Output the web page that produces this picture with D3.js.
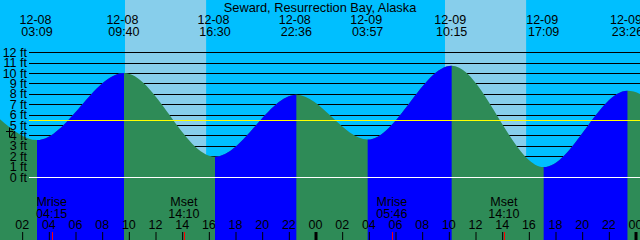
<!DOCTYPE html>
<html>
<head>
<meta charset="utf-8">
<script src="https://cdn.jsdelivr.net/npm/d3@7"></script>
<style>
  body { margin: 0; padding: 0; }
  svg { display: block; }
  text { font-family: "Liberation Sans", Arial, sans-serif; fill: #000; }
</style>
</head>
<body>
<svg id="chart" width="640" height="240"></svg>
<script>
const title = "Seward, Resurrection Bay, Alaska";

// tide extremes (the first two and last two lie outside the window, they only shape the edges)
const tideTimes = ["2023-12-07T15:40", "2023-12-07T21:40", "2023-12-08T03:09", "2023-12-08T09:40",
                   "2023-12-08T16:30", "2023-12-08T22:36", "2023-12-09T03:57", "2023-12-09T10:15",
                   "2023-12-09T17:09", "2023-12-09T23:26", "2023-12-10T05:40", "2023-12-10T11:00"];
const tideHeights = [2.4, 7.5, 3.55, 10.0, 1.95, 7.9, 3.6, 10.7, 0.95, 8.3, 3.3, 11.0];

// daylight
const sunrise = ["2023-12-08T09:45", "2023-12-09T09:45"];
const sunset  = ["2023-12-08T15:50", "2023-12-09T15:50"];

// moon
const moonLabels = ["Mrise", "Mset", "Mrise", "Mset"];
const moonTimes = ["2023-12-08T04:15", "2023-12-08T14:10", "2023-12-09T05:46", "2023-12-09T14:10"];

const feetTicks = [0, 1, 2, 3, 4, 5, 6, 7, 8, 9, 10, 11, 12];
const meanLevel = 5.45;
const currentLevel = 4.4;

const windowStart = "2023-12-08T00:22:30";
const windowEnd = "2023-12-10T00:22:30";

const width = 640, height = 240;
const parse = s => new Date(s + "Z");

const svg = d3.select("#chart");

const x = d3.scaleUtc()
    .domain([parse(windowStart), parse(windowEnd)])
    .range([0, width]);
const y = d3.scaleLinear()
    .domain([0, 12])
    .range([177, 52.2]);

const tide = tideTimes.map((t, i) => ({ t: parse(t), h: tideHeights[i] }));

// background + daylight bands
svg.append("rect").attr("width", width).attr("height", height).attr("fill", "#00bfff");
svg.selectAll(".day").data(sunrise).enter().append("rect")
    .attr("class", "day")
    .attr("x", d => x(parse(d)))
    .attr("width", (d, i) => x(parse(sunset[i])) - x(parse(d)))
    .attr("y", 0)
    .attr("height", height)
    .attr("fill", "#87ceeb");

// grid lines
svg.selectAll(".grid").data(feetTicks.filter(d => d !== 0)).enter().append("line")
    .attr("class", "grid")
    .attr("x1", 29).attr("x2", width)
    .attr("y1", d => Math.round(y(d)) + 0.5)
    .attr("y2", d => Math.round(y(d)) + 0.5)
    .attr("stroke", "#000");

// tide area
const area = d3.area()
    .x(d => x(d.t))
    .y0(height)
    .y1(d => y(d.h))
    .curve(d3.curveMonotoneX);

svg.append("path")
    .datum(tide)
    .attr("d", area)
    .attr("fill", "#2e8b57");

const defs = svg.append("defs");
const rising = d3.range(tide.length - 1).filter(i => tide[i + 1].h > tide[i].h);
rising.forEach(i => {
  defs.append("clipPath").attr("id", "rise" + i)
    .append("rect")
    .attr("x", x(tide[i].t))
    .attr("width", x(tide[i + 1].t) - x(tide[i].t))
    .attr("y", 0)
    .attr("height", height);
  svg.append("path")
    .datum(tide)
    .attr("d", area)
    .attr("fill", "#0000ff")
    .attr("clip-path", "url(#rise" + i + ")");
});

// mean level and datum
svg.append("line")
    .attr("x1", 29).attr("x2", width)
    .attr("y1", Math.round(y(meanLevel)) + 0.5).attr("y2", Math.round(y(meanLevel)) + 0.5)
    .attr("stroke", "#ffff00");
svg.append("line")
    .attr("x1", 29).attr("x2", width)
    .attr("y1", Math.round(y(0)) + 0.5).attr("y2", Math.round(y(0)) + 0.5)
    .attr("stroke", "#ffffff");

// y labels
svg.selectAll(".ylab").data(feetTicks).enter().append("text")
    .attr("class", "ylab")
    .attr("x", 27)
    .attr("y", d => y(d) + 4.5)
    .attr("text-anchor", "end")
    .style("font-size", "12.5px")
    .text(d => d + " ft");

// current level marker
const cy = Math.round(y(currentLevel)) + 0.5;
svg.append("line").attr("x1", 6).attr("x2", 13).attr("y1", cy).attr("y2", cy).attr("stroke", "#000");
svg.append("line").attr("x1", 9.5).attr("x2", 9.5).attr("y1", cy - 4).attr("y2", cy + 6).attr("stroke", "#000");

// title
svg.append("text")
    .attr("x", width / 2)
    .attr("y", 12)
    .attr("text-anchor", "middle")
    .style("font-size", "12.8px")
    .text(title);

// extreme labels
const fmtDate = d3.utcFormat("%m-%d"), fmtTime = d3.utcFormat("%H:%M");
const shown = tide.filter(d => d.t >= x.domain()[0] && d.t <= x.domain()[1]);
const ext = svg.selectAll(".ext").data(shown).enter().append("g")
    .attr("class", "ext")
    .attr("transform", d => `translate(${x(d.t)},0)`);
ext.append("text").attr("y", 24).attr("x", -1.5).attr("text-anchor", "middle")
    .style("font-size", "12.5px").text(d => fmtDate(d.t));
ext.append("text").attr("y", 35.5).attr("text-anchor", "middle")
    .style("font-size", "12.5px").text(d => fmtTime(d.t));

// moon labels
const moon = svg.selectAll(".moon").data(moonTimes).enter().append("g")
    .attr("class", "moon")
    .attr("transform", d => `translate(${x(parse(d))},0)`);
moon.append("text").attr("y", 206).attr("text-anchor", "middle")
    .style("font-size", "12.5px").text((d, i) => moonLabels[i]);
moon.append("text").attr("y", 217.5).attr("text-anchor", "middle")
    .style("font-size", "12.5px").text(d => fmtTime(parse(d)));

// time axis
const xAxis = d3.axisBottom(x)
    .ticks(d3.utcHour.every(2))
    .tickFormat(d3.utcFormat("%H"))
    .tickSize(0);
const gx = svg.append("g").attr("transform", "translate(0,218)").call(xAxis);
gx.select(".domain").remove();
gx.selectAll("text").attr("fill", "#000").style("font-size", "12.5px")
    .attr("dy", null).attr("y", 11);
gx.selectAll(".tick").append("line")
    .attr("x1", 0.5).attr("x2", 0.5)
    .attr("y1", 14).attr("y2", 22)
    .attr("stroke", "#000")
    .attr("stroke-width", d => d.getUTCHours() === 0 ? 3 : 1);

svg.selectAll(".mtick").data(moonTimes).enter().append("line")
    .attr("class", "mtick")
    .attr("x1", d => Math.round(x(parse(d))) + 0.5)
    .attr("x2", d => Math.round(x(parse(d))) + 0.5)
    .attr("y1", 232).attr("y2", 240)
    .attr("stroke", "#ff0000");
</script>
</body>
</html>
